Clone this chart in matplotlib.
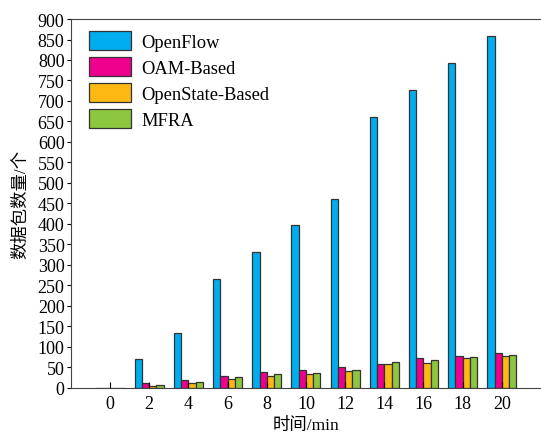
import matplotlib.pyplot as plt
import numpy as np

times = [0, 2, 4, 6, 8, 10, 12, 14, 16, 18, 20]
openflow = [0, 70, 135, 265, 331, 397, 462, 662, 727, 792, 859]
oam = [0, 12, 20, 30, 38, 44, 50, 58, 72, 77, 85]
openstate = [0, 5, 11, 22, 30, 34, 40, 58, 61, 72, 77]
mfra = [0, 8, 14, 27, 33, 37, 43, 62, 69, 75, 80]

names = ['OpenFlow', 'OAM-Based', 'OpenState-Based', 'MFRA']
colors = ['#00AEEF', '#EC008C', '#FDB913', '#8DC63F']

fam = ['Liberation Serif', 'Noto Sans CJK SC']
plt.rcParams['font.family'] = fam

fig = plt.figure(figsize=(5.41, 4.35), dpi=100)
ax = fig.add_axes([0.131, 0.106, 0.869, 0.848])

x = np.array(times)
w = 0.37
for i, (vals, name, c) in enumerate(zip([openflow, oam, openstate, mfra], names, colors)):
    ax.bar(x + (i - 1.5) * w, vals, w, color=c, edgecolor='#333333', linewidth=0.9, label=name)

ax.set_xlim(-2, 22)
ax.set_ylim(0, 900)
ax.set_xticks(times)
ax.set_yticks(range(0, 901, 50))
ax.tick_params(axis='x', direction='in', length=4, labelsize=13, pad=5)
ax.tick_params(axis='y', direction='out', length=3, labelsize=13, pad=1.5)
ax.spines['right'].set_visible(False)
for s in ['left', 'bottom', 'top']:
    ax.spines[s].set_color('#444444')

ax.set_xlabel('时间/min', fontsize=12.5, labelpad=4)
ax.set_ylabel('数据包数量/个', fontsize=12.5, labelpad=6)

ax.legend(loc='upper left', frameon=False, fontsize=13.3, handlelength=2.3,
          handleheight=1.2, labelspacing=0.35, handletextpad=0.55,
          borderaxespad=0.2, bbox_to_anchor=(0.015, 0.998))

fig.savefig('out.png', dpi=100)
